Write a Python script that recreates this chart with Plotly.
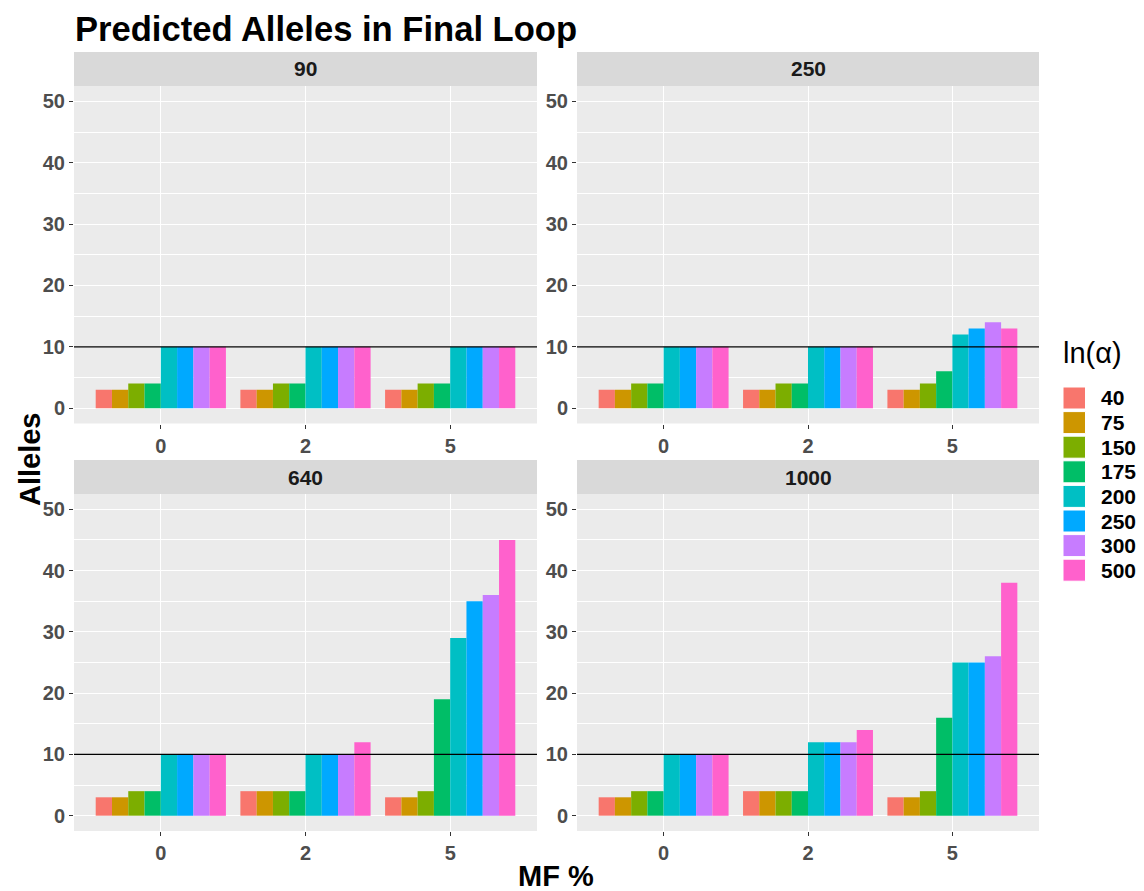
import plotly.graph_objects as go

# ---- data -------------------------------------------------------------
mf_levels = ["0", "2", "5"]
alpha_levels = ["40", "75", "150", "175", "200", "250", "300", "500"]
panels = ["90", "250", "640", "1000"]

# alleles[panel][alpha index] -> values for MF 0, 2, 5
alleles_90 = [[3, 3, 3], [3, 3, 3], [4, 4, 4], [4, 4, 4],
              [10, 10, 10], [10, 10, 10], [10, 10, 10], [10, 10, 10]]
alleles_250 = [[3, 3, 3], [3, 3, 3], [4, 4, 4], [4, 4, 6],
               [10, 10, 12], [10, 10, 13], [10, 10, 14], [10, 10, 13]]
alleles_640 = [[3, 4, 3], [3, 4, 3], [4, 4, 4], [4, 4, 19],
               [10, 10, 29], [10, 10, 35], [10, 10, 36], [10, 12, 45]]
alleles_1000 = [[3, 4, 3], [3, 4, 3], [4, 4, 4], [4, 4, 16],
                [10, 12, 25], [10, 12, 25], [10, 12, 26], [10, 14, 38]]
panel_values = [alleles_90, alleles_250, alleles_640, alleles_1000]

threshold = 10
y_ticks = [0, 10, 20, 30, 40, 50]

hue_colors = ["#F8766D", "#CD9600", "#7CAE00", "#00BE67",
              "#00BFC4", "#00A9FF", "#C77CFF", "#FF61CC"]

# ---- page geometry helpers (pixels -> paper) --------------------------
W, H = 1144, 891


def px(x):
    return x / W


def py(y):
    return 1 - y / H


col_px = [(74, 537), (577, 1039)]
row_px = [(86, 423.5), (494, 831)]
strip_h = 34

FONT = "Liberation Sans, Arial, sans-serif"
TICK_FONT = dict(family=FONT, size=20, color="#4D4D4D", weight="bold")

fig = go.Figure()
shapes = []
annotations = []

for p, (name, values) in enumerate(zip(panels, panel_values)):
    r, c = divmod(p, 2)
    ax = "" if p == 0 else str(p + 1)
    for a, alpha in enumerate(alpha_levels):
        fig.add_trace(go.Bar(
            x=mf_levels, y=values[a], name=alpha,
            marker=dict(color=hue_colors[a], line=dict(width=0)),
            xaxis="x" + ax, yaxis="y" + ax, showlegend=False,
            offsetgroup=str(a),
        ))
    x0, x1 = col_px[c]
    y0, y1 = row_px[r]
    fig.layout["xaxis" + ax] = dict(
        domain=[px(x0), px(x1)], anchor="y" + ax, type="category",
        range=[-0.6, 2.6], showgrid=True, gridcolor="white", gridwidth=1.2,
        ticks="outside", ticklen=4, tickcolor="#333333", tickwidth=1,
        tickfont=TICK_FONT, zeroline=False, showline=False, fixedrange=True,
    )
    fig.layout["yaxis" + ax] = dict(
        domain=[py(y1), py(y0)], anchor="x" + ax, range=[-2.5, 52.5],
        tickvals=y_ticks, showgrid=True, gridcolor="white", gridwidth=1.2,
        minor=dict(tickvals=[5, 15, 25, 35, 45], showgrid=True,
                   gridcolor="white", gridwidth=0.6, ticks=""),
        ticks="outside", ticklen=4, tickcolor="#333333", tickwidth=1,
        tickfont=TICK_FONT, zeroline=False, showline=False, fixedrange=True,
    )
    # panel background
    shapes.append(dict(type="rect", xref="paper", yref="paper", layer="below",
                       x0=px(x0), x1=px(x1), y0=py(y1), y1=py(y0),
                       fillcolor="#EBEBEB", line=dict(width=0)))
    # strip
    shapes.append(dict(type="rect", xref="paper", yref="paper",
                       x0=px(x0), x1=px(x1), y0=py(y0), y1=py(y0 - strip_h),
                       fillcolor="#D9D9D9", line=dict(width=0)))
    annotations.append(dict(text=f"<b>{name}</b>", xref="paper", yref="paper",
                            x=px((x0 + x1) / 2), y=py(y0 - strip_h / 2),
                            showarrow=False, xanchor="center", yanchor="middle",
                            font=dict(family=FONT, size=21, color="#1A1A1A")))
    # reference line
    shapes.append(dict(type="line", xref=f"x{ax} domain", yref="y" + ax,
                       x0=0, x1=1, y0=threshold, y1=threshold,
                       line=dict(color="black", width=1.3)))

# title and axis titles
annotations.append(dict(text="<b>Predicted Alleles in Final Loop</b>",
                        xref="paper", yref="paper", x=px(73), y=py(29),
                        xanchor="left", yanchor="middle", showarrow=False,
                        font=dict(family=FONT, size=34.6, color="black")))
annotations.append(dict(text="<b>Alleles</b>", xref="paper", yref="paper",
                        x=px(30), y=py(459), textangle=-90,
                        xanchor="center", yanchor="middle", showarrow=False,
                        font=dict(family=FONT, size=29, color="black")))
annotations.append(dict(text="<b>MF %</b>", xref="paper", yref="paper",
                        x=px(556), y=py(876), xanchor="center",
                        yanchor="middle", showarrow=False,
                        font=dict(family=FONT, size=29, color="black")))

# legend drawn from the alpha levels
annotations.append(dict(text="ln(α)", xref="paper", yref="paper",
                        x=px(1061), y=py(353), xanchor="left",
                        yanchor="middle", showarrow=False,
                        font=dict(family=FONT, size=29, color="black")))
for i, (alpha, col) in enumerate(zip(alpha_levels, hue_colors)):
    cy = 398 + 24.6 * i
    shapes.append(dict(type="rect", xref="paper", yref="paper",
                       x0=px(1063), x1=px(1085.5), y0=py(cy + 11),
                       y1=py(cy - 11), fillcolor=col,
                       line=dict(color="white", width=1)))
    annotations.append(dict(text=f"<b>{alpha}</b>", xref="paper",
                            yref="paper", x=px(1099), y=py(cy),
                            xanchor="left", yanchor="middle", showarrow=False,
                            font=dict(family=FONT, size=21, color="black")))

fig.update_layout(
    width=W, height=H, margin=dict(l=0, r=0, t=0, b=0),
    paper_bgcolor="white", plot_bgcolor="rgba(0,0,0,0)",
    barmode="group", bargap=0.1, bargroupgap=0,
    shapes=shapes, annotations=annotations, showlegend=False,
)

fig.write_html("out.html")
